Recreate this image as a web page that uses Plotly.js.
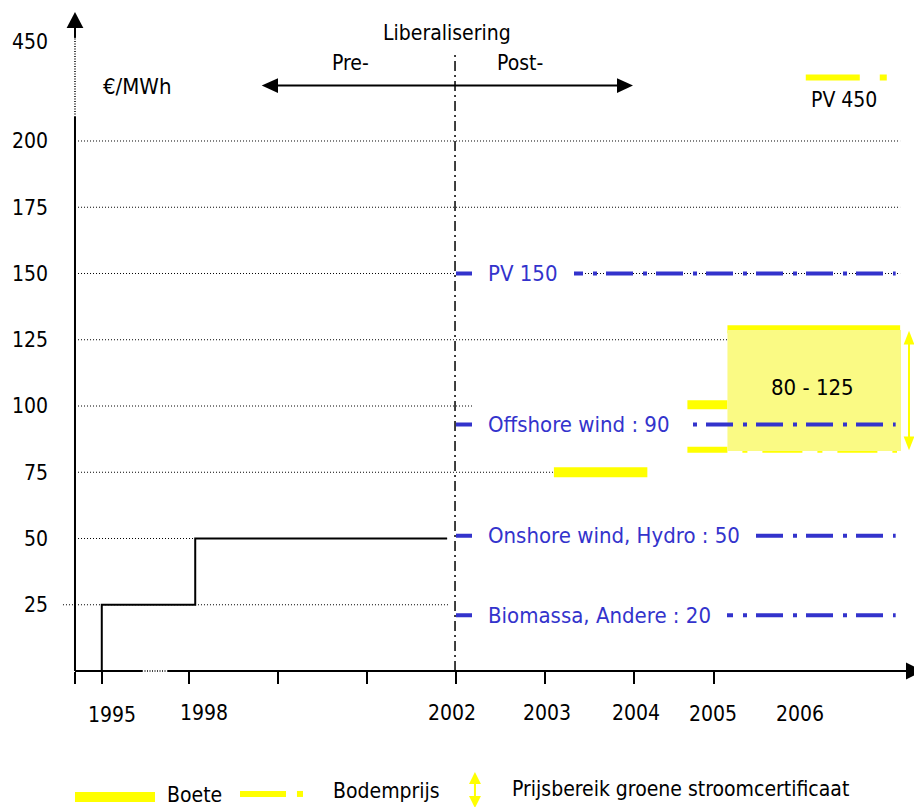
<!DOCTYPE html>
<html><head><meta charset="utf-8">
<script src="https://cdn.plot.ly/plotly-3.0.1.min.js"></script>
<style>html,body{margin:0;padding:0;background:#fff}</style>
</head><body><div id="chart" style="width:914px;height:807px"></div>
<script>
// ---------- data ----------
const yearLabels = ['1995', '1998', '2002', '2003', '2004', '2005', '2006'];
const yearLabelPos = [0.14, 1.17, 3.95, 5.02, 6.02, 6.89, 7.87];
const yearTickPos = [-0.28, 0.02, 1, 2, 3, 4, 5, 6, 6.9];

const yTickVals = [25, 50, 75, 100, 125, 150, 175, 200, 237.4];
const yTickText = ['25', '50', '75', '100', '125', '150', '175', '200', '450'];

// pre-liberalisation price (step)
const preLibX = [0.02, 0.02, 1.07, 1.07, 3.9];
const preLibY = [0, 25, 25, 50, 50];

// post-liberalisation green certificate prices
const greenLabels = ['PV 150', 'Offshore wind : 90', 'Onshore wind, Hydro : 50', 'Biomassa, Andere : 20'];
const greenPrices = [150, 93, 51, 21];
const greenFrom = 4.0;
const greenTo = 8.94;

// Boete (penalty)
const boeteFrom = [5.10, 6.60, 7.05];
const boeteTo = [6.15, 7.05, 8.99];
const boeteVal = [75, 100.5, 129];

// Bodemprijs (floor price)
const bodemFrom = 6.60;
const bodemTo = 8.955;
const bodemVal = 83.5;

// PV 450 floor price (drawn in the compressed part of the axis)
const pv450From = 7.93;
const pv450To = 8.84;
const pv450Val = 224;

// price range green certificates
const rangeFrom = 7.05;
const rangeTo = 9.0;
const rangeLow = 83;
const rangeHigh = 128.7;

// ---------- styling ----------
const F = 'DejaVu Sans Condensed, DejaVu Sans, sans-serif';
const BLUE = '#3333cc';
const YEL = '#ffff00';
const BOX = '#fafa84';
const FS = 21;

const traces = [];
for (let i = 0; i < boeteVal.length; i++) {
  traces.push({x: [boeteFrom[i], boeteTo[i]], y: [boeteVal[i], boeteVal[i]], mode: 'lines',
    line: {color: YEL, width: [10, 9, 8][i]}, hoverinfo: 'skip'});
}
traces.push({x: [bodemFrom, bodemTo], y: [bodemVal, bodemVal], mode: 'lines',
  line: {color: YEL, width: 6, dash: '40px,15px,5px,15px'}, hoverinfo: 'skip'});
traces.push({x: [pv450From, pv450To], y: [pv450Val, pv450Val], mode: 'lines',
  line: {color: YEL, width: 6, dash: '54px,20px,7px,20px'}, hoverinfo: 'skip'});
traces.push({x: [rangeFrom, rangeTo, rangeTo, rangeFrom, rangeFrom],
  y: [rangeLow, rangeLow, rangeHigh, rangeHigh, rangeLow], mode: 'lines', fill: 'toself',
  fillcolor: BOX, line: {width: 0, color: BOX}, hoverinfo: 'skip'});
traces.push({x: preLibX, y: preLibY, mode: 'lines', line: {color: '#000', width: 2}, hoverinfo: 'skip'});
for (let i = 0; i < greenPrices.length; i++) {
  traces.push({x: [greenFrom, greenTo], y: [greenPrices[i], greenPrices[i]], mode: 'lines',
    line: {color: BLUE, width: 4, dash: '27px,10px,4px,9px'}, hoverinfo: 'skip'});
}

// ---------- shapes ----------
const shapes = [];
function seg(x0, y0, x1, y1, color, width, dash, yref, layer) {
  shapes.push({type: 'line', xref: 'x', yref: yref || 'y', x0, y0, x1, y1, layer: layer || 'above',
    line: {color, width, dash: dash || 'solid'}});
}
function tri(path, color, yref) {
  shapes.push({type: 'path', xref: 'x', yref: yref || 'y', path, fillcolor: color, line: {width: 0}, layer: 'above'});
}
// gridlines
const gridVals = [200, 175, 150, 125, 100, 75, 50, 25];
const gridFrom = [-0.247, -0.247, -0.247, -0.247, -0.247, -0.247, -0.247, -0.416];
const gridTo = [8.99, 8.99, 8.99, 7.045, 4.18, 5.1, 3.9, 3.92];
gridVals.forEach((v, i) => seg(gridFrom[i], v, gridTo[i], v, '#000', 1, '1px,2px', 'y', 'below'));
// y axis with break
seg(-0.281, 0, -0.281, 209.1, '#000', 2);
seg(-0.281, 209.1, -0.281, 238.9, '#000', 1.5, '1px,1.5px');
seg(-0.281, 238.9, -0.281, 243.5, '#000', 2);
tri('M -0.375,242.6 L -0.187,242.6 L -0.281,248.7 Z', '#000');
// x axis with break
seg(-0.281, 0, 0.472, 0, '#000', 2, null, 'paper');
seg(0.472, 0, 0.764, 0, '#000', 1.5, '1px,1.5px', 'paper');
seg(0.764, 0, 9.07, 0, '#000', 2, null, 'paper');
tri('M 9.056,0.0129 L 9.056,-0.0129 L 9.25,0 Z', '#000', 'paper');
// liberalisation divider
seg(3.989, 0, 3.989, 233.2, '#000', 1.5, '10px,4px,2px,4px');
// pre / post arrow
seg(2.0, 220.9, 5.81, 220.9, '#000', 2);
tri('M 2.0,223.7 L 2.0,218.1 L 1.817,220.9 Z', '#000');
tri('M 5.809,223.7 L 5.809,218.1 L 5.989,220.9 Z', '#000');
// range double arrow (yellow)
seg(9.09, 87, 9.09, 125, YEL, 2);
tri('M 9.03,123.2 L 9.15,123.2 L 9.09,128.4 Z', YEL);
tri('M 9.03,88.5 L 9.15,88.5 L 9.09,83.3 Z', YEL);
// legend glyphs
seg(-0.281, -0.1906, 0.618, -0.1906, YEL, 10, null, 'paper');
seg(1.573, -0.186, 2.09, -0.186, YEL, 6, null, 'paper');
seg(2.213, -0.186, 2.281, -0.186, YEL, 6, null, 'paper');
seg(4.213, -0.168, 4.213, -0.192, YEL, 2, null, 'paper');
tri('M 4.146,-0.171 L 4.28,-0.171 L 4.213,-0.1528 Z', YEL, 'paper');
tri('M 4.146,-0.189 L 4.28,-0.189 L 4.213,-0.2073 Z', YEL, 'paper');

// ---------- annotations ----------
const ann = [];
function txt(text, x, y, opts) {
  ann.push(Object.assign({text, x, y, xref: 'x', yref: 'y', showarrow: false,
    xanchor: 'center', yanchor: 'middle', font: {family: F, size: FS, color: '#000'}}, opts || {}));
}
txt('Liberalisering', 3.899, 240.8);
txt('Pre-', 2.809, 229.4);
txt('Post-', 4.719, 229.4);
txt('€/MWh', 0.421, 220.4, {font: {family: F, size: 22, color: '#000'}});
txt('PV 450', 8.354, 215.5);
txt('80 - 125', 8.008, 107.1, {font: {family: F, size: 22, color: '#000'}});
greenLabels.forEach((t, i) => txt(t, 4.18, greenPrices[i], {xanchor: 'left', bgcolor: '#fff',
  borderpad: 16, borderwidth: 0, font: {family: F, size: 22, color: BLUE}}));
const yearY = [-0.0666, -0.0635, -0.0635, -0.0635, -0.0635, -0.065, -0.065];
yearLabels.forEach((t, i) => txt(t, yearLabelPos[i], yearY[i], {yref: 'paper'}));
txt('Boete', 0.73, -0.187, {yref: 'paper', xanchor: 'left'});
txt('Bodemprijs', 2.596, -0.182, {yref: 'paper', xanchor: 'left'});
txt('Prijsbereik groene stroomcertificaat', 4.607, -0.179, {yref: 'paper', xanchor: 'left'});

const layout = {
  width: 914, height: 807,
  margin: {l: 55, r: 0, t: 10, b: 136},
  paper_bgcolor: '#fff', plot_bgcolor: '#fff',
  showlegend: false,
  xaxis: {range: [-0.5056, 9.146], tickvals: yearTickPos, ticks: 'outside', ticklen: 12, tickwidth: 2,
    tickcolor: '#000', showticklabels: false, showgrid: false, zeroline: false, showline: false,
    automargin: false, fixedrange: true},
  yaxis: {range: [0, 249.43], tickvals: yTickVals, ticktext: yTickText, ticks: '',
    tickfont: {family: F, size: FS, color: '#000'}, ticklabelstandoff: 6,
    showgrid: false, zeroline: false, showline: false, automargin: false, fixedrange: true},
  shapes, annotations: ann
};
Plotly.newPlot('chart', traces, layout, {displayModeBar: false, staticPlot: true});
</script></body></html>
